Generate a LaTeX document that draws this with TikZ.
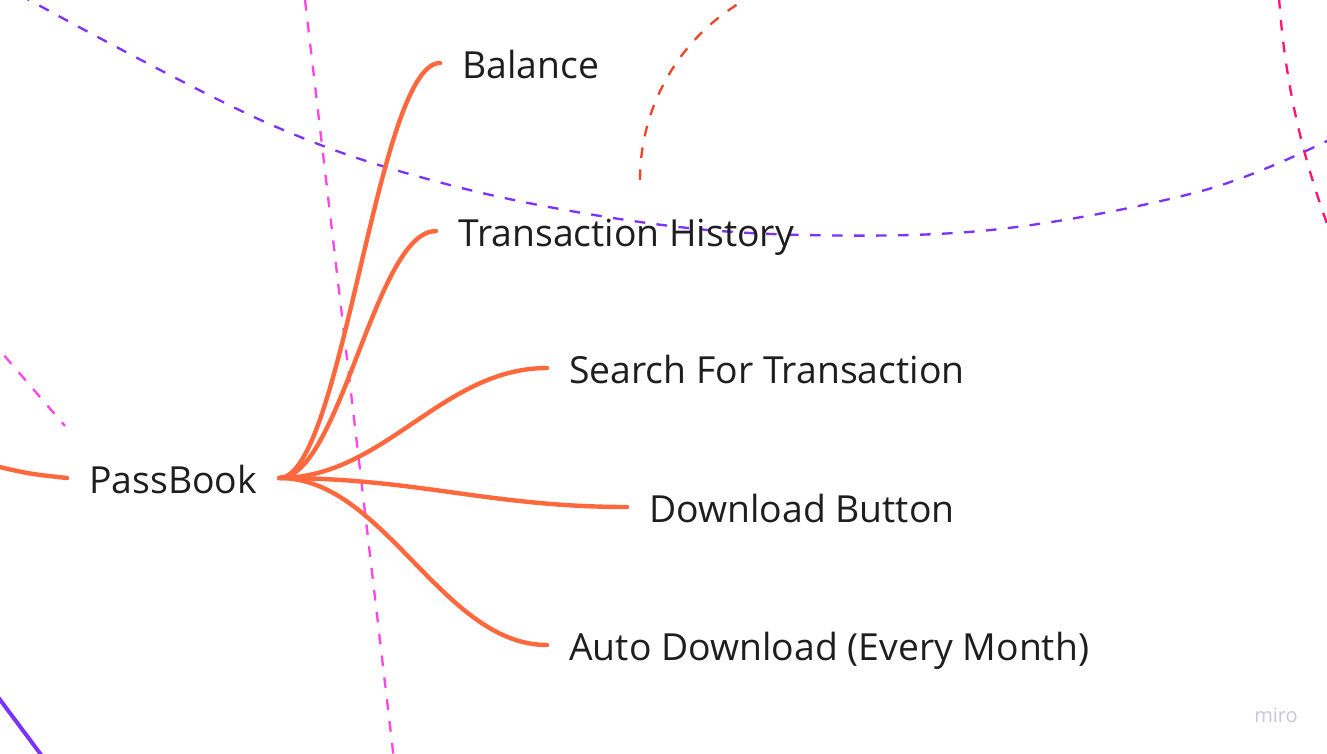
\documentclass[tikz,border=0pt]{standalone}
\usepackage{fontspec}
\setmainfont{Open Sans}
\definecolor{orangeC}{RGB}{255,104,61}
\definecolor{purpleC}{RGB}{125,50,255}
\definecolor{pinkC}{RGB}{255,70,230}
\definecolor{redC}{RGB}{240,70,40}
\definecolor{hotC}{RGB}{255,20,120}
\definecolor{txtC}{RGB}{30,30,30}
\definecolor{miroC}{RGB}{200,200,215}
\tikzset{
  conn/.style={draw=orangeC, line width=3.3pt, line cap=round},
  lbl/.style={font=\fontsize{28}{34}\selectfont, text=txtC, anchor=west,
    inner xsep=16.5pt, inner ysep=0pt, text height=22.5pt, text depth=0pt},
  bgdash/.style={line width=1.75pt, dash pattern=on 8pt off 8.5pt},
}
\begin{document}
\begin{tikzpicture}[x=0.75pt,y=-0.75pt]
\useasboundingbox (0,0) rectangle (1327,753);
\fill[white] (0,0) rectangle (1327,753);
\begin{scope}
\clip (0,0) rectangle (1327,753);
% background dashed connectors of other branches
\draw[bgdash, draw=purpleC] plot[smooth, tension=0.6] coordinates
  {(20,-5) (265,122) (446,184) (640,222) (806,235) (1000,229) (1205,190) (1335,137)};
\draw[bgdash, draw=pinkC] (305,0) -- (394,760);
\draw[bgdash, draw=pinkC] (-10,339) -- (65,426);
\draw[bgdash, draw=redC] plot[domain=180:250, samples=40]
  ({847+207*cos(\x)},{180+207*sin(\x)});
\draw[bgdash, draw=hotC] (1279,-2) .. controls (1285,80) and (1300,150) .. (1330,232);
\draw[draw=purpleC, line width=3pt] (-5,693) -- (45,760);
% mind map
\node[lbl] (pb) at (67,478) {PassBook};
\node[lbl] (bal) at (440,63) {Balance};
\node[lbl] (th) at (436,231) {Transaction History};
\node[lbl] (sft) at (547,368) {Search For Transaction};
\node[lbl] (db) at (627,507) {Download Button};
\node[lbl] (ad) at (547,645) {Auto Download (Every Month)};
\coordinate (par) at (-5,466);
\draw[conn] (par) .. controls (30,474) .. (pb.west);
\draw[conn] (pb.east) .. controls +(63,0) and +(-63,0) .. (bal.west);
\draw[conn] (pb.east) .. controls +(61,0) and +(-61,0) .. (th.west);
\draw[conn] (pb.east) .. controls +(105,0) and +(-105,0) .. (sft.west);
\draw[conn] (pb.east) .. controls +(138,0) and +(-138,0) .. (db.west);
\draw[conn] (pb.east) .. controls +(105,0) and +(-105,0) .. (ad.west);
\node[font=\fontsize{15}{16}\selectfont, text=miroC, anchor=base west, inner sep=0pt] (miro) at (1254,722) {miro};
\end{scope}
\end{tikzpicture}
\end{document}
